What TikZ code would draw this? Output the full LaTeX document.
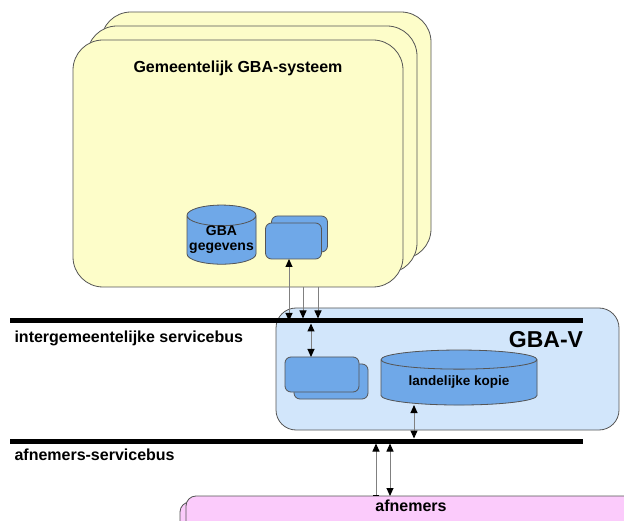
\documentclass[tikz,border=0pt]{standalone}
\usepackage{fontspec}
\setmainfont{Liberation Sans}
\usetikzlibrary{shapes.geometric,arrows.meta,positioning}
\definecolor{gbageel}{HTML}{FDFDC9}
\definecolor{gbablauw}{HTML}{6FA8E8}
\definecolor{gbadak}{HTML}{8CBBEF}
\definecolor{gbalicht}{HTML}{D2E6FB}
\definecolor{gbaroze}{HTML}{FBCBFB}
\definecolor{gbarand}{HTML}{555555}
\definecolor{gbalijn}{HTML}{808080}
\tikzset{
    kader/.style={draw=gbarand,line width=0.8pt,inner sep=0pt,outer sep=0pt},
    geelkader/.style={kader,fill=gbageel,rounded corners=30pt,
        minimum width=330pt,minimum height=247pt},
    blok/.style={kader,fill=gbablauw,rounded corners=6pt},
    db/.style={kader,fill=gbablauw,cylinder,shape border rotate=90,
        cylinder uses custom fill,cylinder body fill=gbablauw,
        cylinder end fill=gbadak,align=center},
    bus/.style={line width=5pt},
    buslabel/.style={anchor=west,font=\bfseries\fontsize{16}{18}\selectfont},
    pijl/.style={draw=gbalijn,line width=1pt,>={Triangle[length=8pt,width=7pt,color=black]}},
}
\begin{document}
\begin{tikzpicture}[x=1pt,y=-1pt]
    \useasboundingbox (0,0) rectangle (624,521);
    % gemeentelijke systemen (gestapeld)
    \foreach \d[count=\n] in {28,14} {
        \node[geelkader] (gemachter\n) at (238+\d,163.5-\d) {};
    }
    \node[geelkader] (gemeente) at (238,163.5) {};
    \node[font=\bfseries\fontsize{16}{18}\selectfont] (gemtitel) at (238,68) {Gemeentelijk GBA-systeem};
    \node[db,minimum width=69pt,minimum height=46pt,aspect=0.32,
        font=\bfseries\fontsize{14}{15}\selectfont] (gbadb) at (221.5,240) {GBA\\gegevens};
    \node[blok,minimum width=56pt,minimum height=36pt] (gemapp2) at (299.5,234) {};
    \node[blok,minimum width=56pt,minimum height=36pt] (gemapp1) at (293.5,241) {};
    % GBA-V
    \node[kader,fill=gbalicht,rounded corners=20pt,minimum width=343pt,minimum height=122pt] (gbav) at (447.5,369) {};
    \node[font=\bfseries\fontsize{23}{26}\selectfont] (gbavtitel) at (546,340) {GBA-V};
    \node[blok,minimum width=74pt,minimum height=35pt] (vapp2) at (331,381.5) {};
    \node[blok,minimum width=74pt,minimum height=35pt] (vapp1) at (322,374.5) {};
    \node[db,minimum width=156pt,minimum height=55pt,aspect=0.19,
        font=\bfseries\fontsize{13.5}{15}\selectfont] (kopie) at (459,382.5) {landelijke kopie};
    % afnemers
    \node[kader,fill=gbaroze,rounded corners=10pt,minimum width=450pt,minimum height=40pt] (afnachter) at (405,522) {};
    \node[kader,fill=gbaroze,rounded corners=10pt,minimum width=450pt,minimum height=40pt] (afnemers) at (411,516) {};
    \node[font=\bfseries\fontsize{16}{18}\selectfont] (afntekst) at (411,506) {afnemers};
    % bussen
    \coordinate (bus1w) at (10,321);
    \coordinate (bus1o) at (583,321);
    \coordinate (bus2w) at (10,441);
    \coordinate (bus2o) at (583,441);
    \draw[bus] (bus1w) -- (bus1o);
    \draw[bus] (bus2w) -- (bus2o);
    \node[buslabel] (bus1tekst) at (11,338) {intergemeentelijke servicebus};
    \node[buslabel] (bus2tekst) at (11,455) {afnemers-servicebus};
    % verbindingen
    \coordinate (p1) at ([xshift=-4.5pt]gemapp1.south);
    \draw[pijl,<->] (p1) -- (p1 |- bus1w);
    \foreach \dx[count=\i] in {9.5,24.5} {
        \coordinate (lijn\i) at ([xshift=\dx pt]gemapp1.south);
        \draw[pijl,->,shorten >=2.5pt] (lijn\i |- gemeente.south) -- (lijn\i |- bus1w);
    }
    \coordinate (p2) at ([xshift=-11pt]vapp1.north);
    \draw[pijl,<->,shorten <=2.5pt] (p2 |- bus1w) -- (p2);
    \coordinate (p3) at ([xshift=-45pt]kopie.south);
    \draw[pijl,<->,shorten >=2.5pt] (p3) -- (p3 |- bus2w);
    \coordinate (p4) at ([xshift=-35pt]afnemers.north);
    \draw[pijl,{Bar[width=6pt,color=black]}->,shorten >=2.5pt] (p4) -- (p4 |- bus2w);
    \coordinate (p5) at ([xshift=-21pt]afnemers.north);
    \draw[pijl,<->,shorten >=2.5pt] (p5) -- (p5 |- bus2w);
\end{tikzpicture}
\end{document}
